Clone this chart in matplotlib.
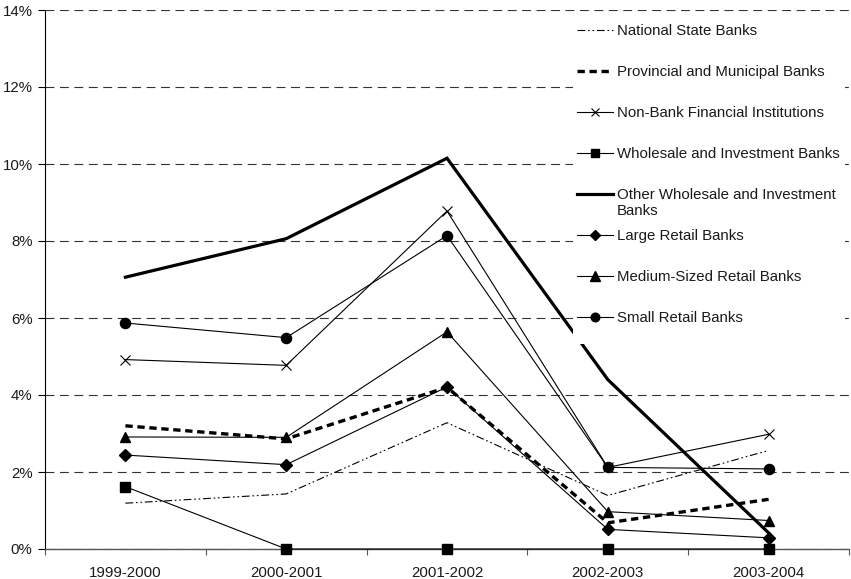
import numpy as np
import matplotlib.pyplot as plt
from matplotlib.patches import Rectangle
from matplotlib.ticker import FuncFormatter, FixedLocator

plt.rcParams['font.family'] = ['Liberation Sans', 'DejaVu Sans']

# Annual rates by bank group (percent)
periods = ['1999-2000', '2000-2001', '2001-2002', '2002-2003', '2003-2004']

national_state = [1.19, 1.43, 3.28, 1.39, 2.56]
provincial_municipal = [3.20, 2.86, 4.20, 0.68, 1.29]
non_bank = [4.92, 4.77, 8.78, 2.12, 2.98]
wholesale_investment = [1.62, 0.0, 0.0, 0.0, 0.0]
other_wholesale = [7.06, 8.06, 10.15, 4.40, 0.42]
large_retail = [2.44, 2.19, 4.21, 0.51, 0.29]
medium_retail = [2.91, 2.90, 5.64, 0.97, 0.74]
small_retail = [5.87, 5.49, 8.14, 2.12, 2.08]

thin = 0.8
series = [
    ('National State Banks', national_state,
     dict(lw=thin, dashes=(7, 2.5, 1.5, 2.5, 1.5, 2.5), marker=None)),
    ('Provincial and Municipal Banks', provincial_municipal,
     dict(lw=2.4, dashes=(2.2, 1.4), marker=None)),
    ('Non-Bank Financial Institutions', non_bank,
     dict(lw=thin, marker='x', ms=7.5, mew=0.8)),
    ('Wholesale and Investment Banks', wholesale_investment,
     dict(lw=thin, marker='s', ms=6.8)),
    ('Other Wholesale and Investment\nBanks', other_wholesale,
     dict(lw=2.3, marker=None)),
    ('Large Retail Banks', large_retail,
     dict(lw=thin, marker='D', ms=6.2)),
    ('Medium-Sized Retail Banks', medium_retail,
     dict(lw=thin, marker='^', ms=7.8)),
    ('Small Retail Banks', small_retail,
     dict(lw=thin, marker='o', ms=7.3)),
]

fig = plt.figure(figsize=(8.51, 5.79), dpi=100)
ax = fig.add_axes([45 / 851, 30 / 579, 804 / 851, 539 / 579])

x = np.arange(len(periods))
for i, (label, values, style) in enumerate(series):
    ax.plot(x, values, color='black', solid_joinstyle='miter',
            zorder=3 + i * 0.1, clip_on=False, **style)

# axes, ticks and grid
ax.set_xlim(-0.5, len(periods) - 0.5)
ax.set_ylim(0, 14)
ax.set_yticks(np.arange(0, 15, 2))
ax.yaxis.set_major_formatter(FuncFormatter(lambda v, _: f'{v:.0f}%'))
ax.grid(axis='y', color='#333333', lw=0.8, linestyle=(0, (8, 5)), zorder=1)

ax.xaxis.set_major_locator(FixedLocator(np.arange(-0.5, len(periods), 1.0)))
ax.xaxis.set_major_formatter(FuncFormatter(lambda v, _: ''))
ax.xaxis.set_minor_locator(FixedLocator(x))
ax.set_xticklabels(periods, minor=True)
ax.tick_params(axis='x', which='major', length=4, width=0.8, color='#555555')
ax.tick_params(axis='x', which='minor', length=0, pad=12, labelsize=10.8,
               labelcolor='#1a1a1a')
ax.tick_params(axis='y', length=5, width=0.8, pad=4, labelsize=10.8,
               labelcolor='#1a1a1a')

for side in ('top', 'right'):
    ax.spines[side].set_visible(False)
ax.spines['left'].set_linewidth(0.8)
ax.spines['bottom'].set_linewidth(1.0)
ax.spines['bottom'].set_color('#555555')

# legend panel on a white box over the lines
ax.add_patch(Rectangle((0.657, 0.38), 0.338, 0.616, transform=ax.transAxes,
                       facecolor='white', edgecolor='none', zorder=10))
top = 0.963
step = 41 / 539
for i, (label, values, style) in enumerate(series):
    y = top - i * step
    hstyle = dict(style)
    if 'ms' in hstyle:
        hstyle['ms'] = hstyle['ms'] * 0.85
    ax.plot([0.662, 0.6845, 0.707], [y] * 3, color='black',
            transform=ax.transAxes, markevery=[1], zorder=11, clip_on=False,
            **hstyle)
    ax.text(0.711, y + 0.0118, label, transform=ax.transAxes, va='top',
            ha='left', fontsize=10.8, color='#1a1a1a', zorder=12)

fig.savefig('out.png', dpi=100)
